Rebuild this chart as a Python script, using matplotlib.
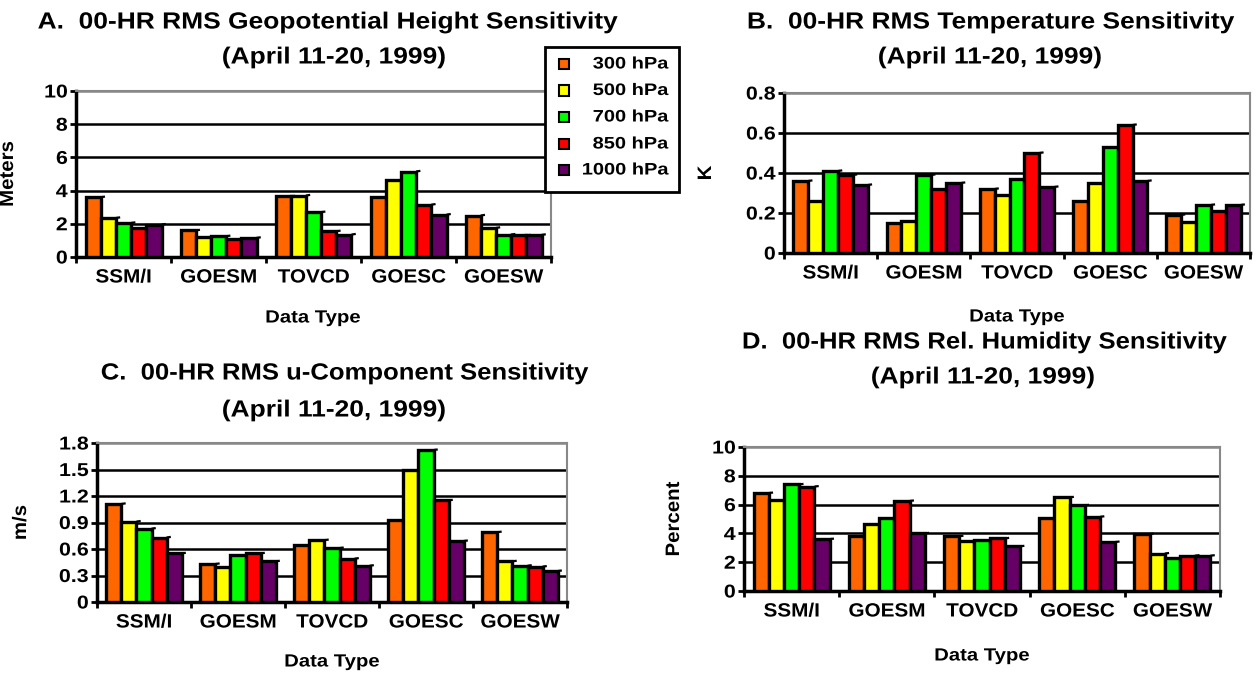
import numpy as np
import matplotlib
matplotlib.use("Agg")
import matplotlib.pyplot as plt
from matplotlib.patches import Rectangle
from matplotlib.path import Path
from matplotlib.patheffects import AbstractPathEffect
from matplotlib.transforms import Affine2D
from matplotlib.ticker import FixedLocator, FuncFormatter

plt.rcParams['font.family'] = ['Liberation Sans', 'DejaVu Sans']
plt.rcParams['font.weight'] = 'bold'

categories = ["SSM/I", "GOESM", "TOVCD", "GOESC", "GOESW"]
levels = ["300 hPa", "500 hPa", "700 hPa", "850 hPa", "1000 hPa"]
colors = ["#FF6600", "#FFFF00", "#00FF00", "#FF0000", "#660066"]

# Values per level (rows) for each data type (columns)
geo_height = [
    [3.6, 1.6, 3.65, 3.6, 2.5],
    [2.35, 1.2, 3.7, 4.65, 1.75],
    [2.05, 1.25, 2.7, 5.15, 1.35],
    [1.75, 1.1, 1.55, 3.15, 1.3],
    [1.95, 1.15, 1.35, 2.55, 1.33],
]
temperature = [
    [0.36, 0.15, 0.32, 0.26, 0.19],
    [0.26, 0.16, 0.29, 0.35, 0.155],
    [0.41, 0.39, 0.37, 0.53, 0.24],
    [0.39, 0.32, 0.50, 0.64, 0.21],
    [0.34, 0.35, 0.33, 0.36, 0.24],
]
u_component = [
    [1.11, 0.43, 0.64, 0.93, 0.79],
    [0.91, 0.40, 0.70, 1.49, 0.46],
    [0.83, 0.53, 0.61, 1.72, 0.41],
    [0.73, 0.55, 0.49, 1.15, 0.40],
    [0.55, 0.46, 0.41, 0.69, 0.35],
]
rel_humidity = [
    [6.8, 3.85, 3.8, 5.1, 3.95],
    [6.3, 4.65, 3.5, 6.5, 2.6],
    [7.4, 5.1, 3.55, 5.95, 2.3],
    [7.25, 6.25, 3.65, 5.15, 2.45],
    [3.6, 4.0, 3.1, 3.4, 2.45],
]


class Stretch(AbstractPathEffect):
    """Horizontally widen glyphs (along the text direction) about an anchor."""

    def __init__(self, sx, anchor="center"):
        super().__init__()
        self.sx = sx
        self.anchor = anchor

    def draw_path(self, renderer, gc, tpath, affine, rgbFace=None):
        v = tpath.vertices
        if tpath.codes is not None:
            v = v[tpath.codes != Path.CLOSEPOLY]
        if len(v):
            x0, x1 = v[:, 0].min(), v[:, 0].max()
        else:
            x0 = x1 = 0.0
        ref = {"left": x0, "center": 0.5 * (x0 + x1), "right": x1}[self.anchor]
        t = Affine2D().translate(-ref, 0).scale(self.sx, 1).translate(ref, 0) + affine
        renderer.draw_path(gc, tpath, t, rgbFace)


W, H = 1256, 677
fig = plt.figure(figsize=(W / 100, H / 100), dpi=100)


def px_rect(l, r, t, b):
    return [l / W, 1 - b / H, (r - l) / W, (b - t) / H]


def fx(x):
    return x / W


def fy(y):
    return 1 - y / H


panels = [
    dict(data=geo_height, rect=(76, 551, 91, 257), ymax=10, step=2, ylabel="Meters",
         ylab_x=17, title1="A.  00-HR RMS Geopotential Height Sensitivity",
         tx1=328, tx2=334, ts1=1.13, ty1=22, ty2=57, dtx=313, dty=318),
    dict(data=temperature, rect=(784, 1250, 93, 253), ymax=0.8, step=0.2, ylabel="K",
         ylab_x=715, title1="B.  00-HR RMS Temperature Sensitivity",
         tx1=991, tx2=990, ts1=1.13, ty1=22, ty2=57, dtx=1017, dty=317),
    dict(data=u_component, rect=(97, 567, 443, 602), ymax=1.8, step=0.3, ylabel="m/s",
         ylab_x=30, title1="C.  00-HR RMS u-Component Sensitivity",
         tx1=345, tx2=334, ts1=1.10, ty1=373, ty2=410, dtx=332, dty=662),
    dict(data=rel_humidity, rect=(744, 1220, 447, 591), ymax=10, step=2, ylabel="Percent",
         ylab_x=683, title1="D.  00-HR RMS Rel. Humidity Sensitivity",
         tx1=985, tx2=983, ts1=1.10, ty1=342, ty2=377, dtx=982, dty=656),
]

x = np.arange(len(categories))
bw = 0.16

for p in panels:
    l, r, t, b = p["rect"]
    ax = fig.add_axes(px_rect(l, r, t, b))
    for i, (lev, col) in enumerate(zip(levels, colors)):
        bars = ax.bar(x - 0.32 + bw * i, p["data"][i], width=bw, color=col,
                      edgecolor="black", linewidth=2.4, zorder=3, label=lev)
        # small 3-D accent at the top-right corner of each bar
        for rect in bars:
            xr = rect.get_x() + rect.get_width()
            hh = rect.get_height()
            ax.plot([xr, xr + 0.045], [hh, hh + p["ymax"] * 0.004], color="black",
                    lw=1.6, zorder=2.9, solid_capstyle="butt")
    ax.set_xlim(-0.5, len(categories) - 0.5)
    ax.set_ylim(0, p["ymax"])
    yt = np.round(np.arange(0, p["ymax"] + p["step"] / 2, p["step"]), 3)
    ax.yaxis.set_major_locator(FixedLocator(yt))
    ax.yaxis.set_major_formatter(FuncFormatter(lambda v, pos: f"{v:g}"))
    ax.set_xticks(x)
    ax.set_xticklabels(categories, fontsize=13.8, fontweight="bold")
    ax.set_xticks(np.arange(-0.5, len(categories)), minor=True)
    ax.tick_params(axis="x", which="major", length=0, pad=9)
    ax.tick_params(axis="x", which="minor", length=4, width=2, direction="out", color="black")
    ax.tick_params(axis="y", length=4, width=2, pad=2, labelsize=13.4)
    for lab in ax.get_yticklabels():
        lab.set_fontweight("bold")
        lab.set_path_effects([Stretch(1.15, "right")])
    for lab in ax.get_xticklabels():
        lab.set_path_effects([Stretch(1.08, "center")])
    ax.yaxis.grid(True, color="black", linewidth=1.8, zorder=0)
    ax.set_axisbelow(True)
    gl = ax.get_ygridlines()
    gl[-1].set_color("#888888")
    ax.spines["left"].set_linewidth(2.5)
    ax.spines["bottom"].set_linewidth(2.5)
    ax.spines["top"].set_color("#888888")
    ax.spines["right"].set_color("#888888")
    ax.spines["top"].set_linewidth(1.5)
    ax.spines["right"].set_linewidth(1.5)
    yl = ax.set_ylabel(p["ylabel"], fontsize=14, fontweight="bold")
    yl.set_path_effects([Stretch(1.05, "center")])
    ax.yaxis.set_label_coords((p["ylab_x"] - l) / (r - l), 0.5)

    t1 = fig.text(fx(p["tx1"]), fy(p["ty1"]), p["title1"], ha="center", va="center",
                  fontsize=16.8, fontweight="bold")
    t1.set_path_effects([Stretch(p["ts1"], "center")])
    t2 = fig.text(fx(p["tx2"]), fy(p["ty2"]), "(April 11-20, 1999)", ha="center",
                  va="center", fontsize=16.8, fontweight="bold")
    t2.set_path_effects([Stretch(1.13, "center")])
    dt = fig.text(fx(p["dtx"]), fy(p["dty"]), "Data Type", ha="center", va="center",
                  fontsize=12.7, fontweight="bold")
    dt.set_path_effects([Stretch(1.15, "center")])

# Legend (panel A), drawn in figure pixel coordinates
lx0, lx1, ly0, ly1 = 545, 679, 47, 192
fig.patches.append(Rectangle((fx(lx0), fy(ly1)), fx(lx1 - lx0), (ly1 - ly0) / H,
                             transform=fig.transFigure, facecolor="white",
                             edgecolor="black", linewidth=2, zorder=10))
row_y = [64, 90.5, 117, 144, 170]
for lev, col, yy in zip(levels, colors, row_y):
    fig.patches.append(Rectangle((fx(559), fy(yy + 5)), fx(10), 10 / H,
                                 transform=fig.transFigure, facecolor=col,
                                 edgecolor="black", linewidth=1.5, zorder=11))
    lt = fig.text(fx(668), fy(yy), lev, ha="right", va="center", fontsize=12,
                  fontweight="bold", zorder=12)
    lt.set_path_effects([Stretch(1.2, "right")])

fig.savefig("out.png", dpi=100)
